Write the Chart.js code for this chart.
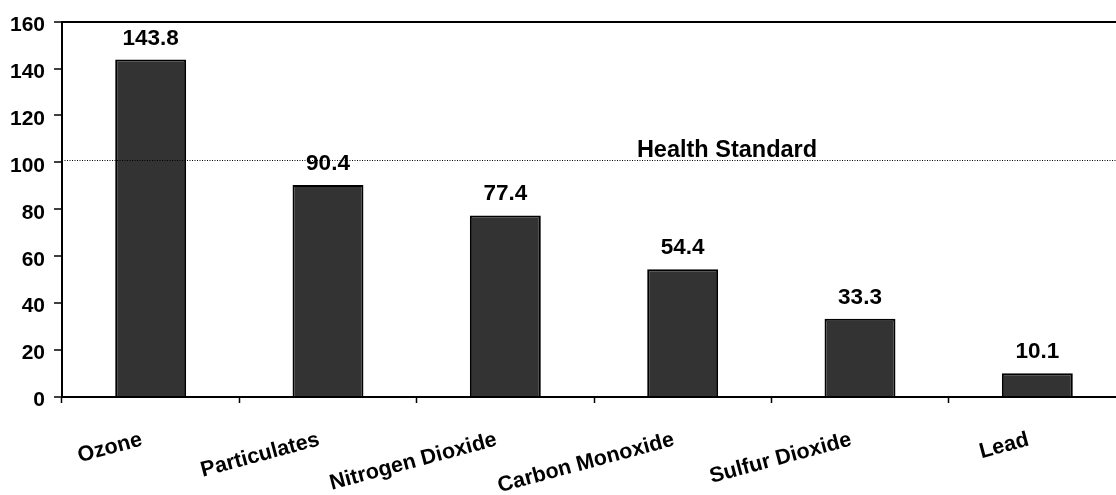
<!DOCTYPE html>
<html>
<head>
<meta charset="utf-8">
<script src="https://cdn.jsdelivr.net/npm/chart.js@4.4.1/dist/chart.umd.min.js"></script>
<style>
  html, body { margin: 0; padding: 0; background: #fff; overflow: hidden; }
  #wrap { width: 1126px; height: 495px; }
</style>
</head>
<body>
<div id="wrap"><canvas id="pollutantChart" width="1126" height="495"></canvas></div>
<script>
// chart data
const pollutants = ['Ozone', 'Particulates', 'Nitrogen Dioxide', 'Carbon Monoxide', 'Sulfur Dioxide', 'Lead'];
const pollutionValues = [143.8, 90.4, 77.4, 54.4, 33.3, 10.1];
const yTicks = [0, 20, 40, 60, 80, 100, 120, 140, 160];
const healthStandard = 100;
const healthStandardLabel = 'Health Standard';

const FONT = "'Liberation Sans', Arial, Helvetica, sans-serif";

// draws the value above each bar
const valueLabels = {
    id: 'valueLabels',
    afterDatasetsDraw(chart) {
        const ctx = chart.ctx;
        const meta = chart.getDatasetMeta(0);
        ctx.save();
        ctx.font = 'bold 22.5px ' + FONT;
        ctx.fillStyle = '#000';
        ctx.textAlign = 'center';
        ctx.textBaseline = 'alphabetic';
        meta.data.forEach((bar, i) => {
            ctx.fillText(pollutionValues[i].toFixed(1), bar.x, bar.y - 15);
        });
        ctx.restore();
    }
};

// dotted health standard line with its label
const standardLine = {
    id: 'standardLine',
    afterDraw(chart) {
        const ctx = chart.ctx;
        const x = chart.scales.x;
        const y = chart.scales.y;
        const py = Math.round(y.getPixelForValue(healthStandard)) - 1.5;
        ctx.save();
        ctx.strokeStyle = '#000';
        ctx.lineWidth = 1;
        ctx.setLineDash([1, 1.5]);
        ctx.beginPath();
        ctx.moveTo(chart.chartArea.left, py);
        ctx.lineTo(chart.width, py);
        ctx.stroke();
        ctx.setLineDash([]);
        ctx.font = 'bold 23.5px ' + FONT;
        ctx.fillStyle = '#000';
        ctx.textAlign = 'center';
        ctx.fillText(healthStandardLabel, x.getPixelForValue(3.25), py - 4);
        ctx.restore();
    }
};

const ctx = document.getElementById('pollutantChart').getContext('2d');
new Chart(ctx, {
    type: 'bar',
    data: {
        labels: pollutants,
        datasets: [{
            data: pollutionValues,
            backgroundColor: '#333333',
            borderColor: '#000000',
            borderWidth: 2,
            barPercentage: 0.4,
            categoryPercentage: 1
        }]
    },
    options: {
        responsive: false,
        animation: false,
        devicePixelRatio: 1,
        layout: { padding: { top: 16, right: 0, bottom: 0, left: 0 } },
        plugins: {
            legend: { display: false },
            tooltip: { enabled: false }
        },
        scales: {
            x: {
                grid: {
                    offset: true,
                    drawOnChartArea: false,
                    drawTicks: true,
                    tickLength: 6,
                    tickColor: '#000',
                    tickWidth: 1.5
                },
                border: { color: '#000', width: 2 },
                ticks: {
                    color: '#000',
                    font: { family: FONT, size: 21.5, weight: 'bold' },
                    minRotation: 15,
                    maxRotation: 15,
                    autoSkip: false,
                    padding: 24,
                    labelOffset: -9
                },
                afterFit(scale) { scale.height = 98; }
            },
            y: {
                min: 0,
                max: 160,
                afterBuildTicks(scale) {
                    scale.ticks = yTicks.map(v => ({ value: v }));
                },
                grid: {
                    color: c => (c.tick && c.tick.value === 160) ? '#000' : 'rgba(0,0,0,0)',
                    lineWidth: 2,
                    drawTicks: true,
                    tickLength: 8,
                    tickColor: '#000',
                    tickWidth: 1.5
                },
                border: { color: '#000', width: 2 },
                ticks: {
                    color: '#000',
                    font: { family: FONT, size: 21, weight: 'bold' },
                    padding: 9,
                    labelOffset: 3.5
                },
                afterFit(scale) { scale.width = 62; }
            }
        }
    },
    plugins: [valueLabels, standardLine]
});
</script>
</body>
</html>
